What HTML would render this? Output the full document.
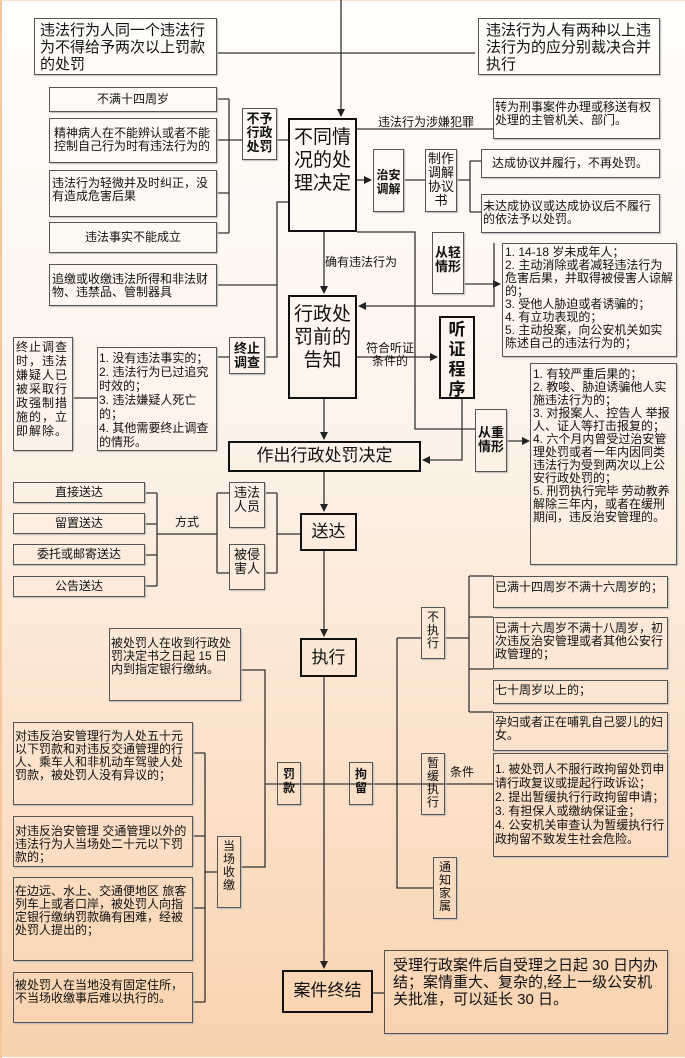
<!DOCTYPE html>
<html><head><meta charset="utf-8"><style>
*{margin:0;padding:0;box-sizing:border-box}
body{width:685px;height:1057px;position:relative;overflow:hidden;background:linear-gradient(#fffefc 0%,#fdf3ea 40%,#fbe0c8 75%,#f9d2ae 100%);font-family:"Liberation Sans","Noto Sans CJK SC",sans-serif;color:#111}
body:before{content:"";position:absolute;left:0;top:0;width:685px;height:1057px;border-left:2px solid #f6c79a;border-right:2px solid #f6c79a;border-top:1px solid #fbe3cc}
.b{position:absolute;border:1px solid #555;box-shadow:1px 1px 1px #bbb;font-size:12px;line-height:13px;padding:2px 1px;overflow:hidden}
.c{text-align:center}
.k{border:2px solid #111;font-size:19px;line-height:23px;text-align:center;padding:4px 2px;box-shadow:none}
.v{font-size:13px;line-height:14px;text-align:center;padding:3px 2px}
.bd{font-weight:bold}
svg{position:absolute;left:0;top:0}
.t{position:absolute;font-size:12px;line-height:13px}
</style></head><body>
<svg width="685" height="1057" stroke="#333" stroke-width="1.3" fill="none">
<defs><marker id="a" markerWidth="8" markerHeight="8" refX="7" refY="4" orient="auto" markerUnits="userSpaceOnUse"><path d="M0,0L8,4L0,8z" fill="#222" stroke="none"/></marker></defs>
<path d="M341,0V116" marker-end="url(#a)"/>
<path d="M217,53H475"/>
<path d="M217,99H229M217,140H229M217,193H229M217,233H229M229,99V233M229,140H242M277,140H288"/>
<path d="M217,285H277V202H288M277,285V357H265"/>
<path d="M357,129H493"/>
<path d="M357,180H371" marker-end="url(#a)"/>
<path d="M404,180H425M457,180H470M470,161V212M470,161H481M470,212H481"/>
<path d="M357,232H415V429H475"/>
<path d="M324,232V293" marker-end="url(#a)"/>
<path d="M464,284H500" marker-end="url(#a)"/>
<path d="M494,243V306H359" marker-end="url(#a)"/>
<path d="M357,357H437" marker-end="url(#a)"/>
<path d="M462,399V460H423" marker-end="url(#a)"/>
<path d="M507,441H529" marker-end="url(#a)"/>
<path d="M216,357H229M97,398H73"/>
<path d="M324,399V439" marker-end="url(#a)"/>
<path d="M324,472V511" marker-end="url(#a)"/>
<path d="M145,493H157M145,524H157M145,555H157M145,586H157M157,493V586M157,534H217M217,493V573M217,493H229M217,573H229M265,493H277M265,573H277M277,493V573M277,534H300"/>
<path d="M324,551V636" marker-end="url(#a)"/>
<path d="M324,677V968" marker-end="url(#a)"/>
<path d="M241,670H265V867H241M265,784H493"/>
<path d="M193,753H205M193,836H205M193,908H205M193,1002H205M205,753V1002M205,872H217"/>
<path d="M397,638V888H433M397,638H421M445,638H469M469,576V712M469,576H493M469,617H493M469,669H493M469,712H493"/>
<path d="M373,993H384"/>
</svg>
<div class="b" style="left:34px;top:18px;width:183px;height:57px;font-size:15px;line-height:17px;padding:3px 5px">违法行为人同一个违法行为不得给予两次以上罚款的处罚</div>
<div class="b" style="left:478px;top:18px;width:182px;height:57px;font-size:15px;line-height:17px;padding:3px 7px">违法行为人有两种以上违法行为的应分别裁决合并执行</div>
<div class="b c" style="left:49px;top:87px;width:168px;height:25px;padding-top:5px">不满十四周岁</div>
<div class="b" style="left:49px;top:118px;width:168px;height:45px;padding:8px 4px">精神病人在不能辨认或者不能控制自己行为时有违法行为的</div>
<div class="b" style="left:49px;top:170px;width:168px;height:47px;padding:6px 2px">违法行为轻微并及时纠正，没有造成危害后果</div>
<div class="b c" style="left:49px;top:222px;width:168px;height:31px;padding-top:8px">违法事实不能成立</div>
<div class="b" style="left:49px;top:264px;width:168px;height:42px;padding:8px 2px">追缴或收缴违法所得和非法财物、违禁品、管制器具</div>
<div class="b v bd" style="left:242px;top:108px;width:35px;height:52px">不予行政处罚</div>
<div class="b k" style="left:288px;top:118px;width:69px;height:114px;padding-top:6px">不同情况的处理决定</div>
<div class="t" style="left:378px;top:116px">违法行为涉嫌犯罪</div>
<div class="b" style="left:493px;top:98px;width:167px;height:41px;padding:2px 1px">转为刑事案件办理或移送有权处理的主管机关、部门。</div>
<div class="b v bd" style="left:373px;top:149px;width:31px;height:63px;padding:18px 0 0 0;font-size:12px;line-height:14px">治安<br>调解</div>
<div class="b v" style="left:425px;top:149px;width:32px;height:63px;padding-top:2px">制作调解协议书</div>
<div class="b" style="left:481px;top:149px;width:179px;height:29px;padding:7px 10px">达成协议并履行，不再处罚。</div>
<div class="b" style="left:481px;top:194px;width:179px;height:39px;padding:5px 1px">未达成协议或达成协议后不履行的依法予以处罚。</div>
<div class="b v bd" style="left:432px;top:232px;width:32px;height:62px;padding-top:13px">从轻情形</div>
<div class="t" style="left:325px;top:256px">确有违法行为</div>
<div class="b" style="left:502px;top:243px;width:175px;height:114px;padding:2px 2px">1. 14-18 岁未成年人；<br>2. 主动消除或者减轻违法行为危害后果，并取得被侵害人谅解的；<br>3. 受他人胁迫或者诱骗的；<br>4. 有立功表现的；<br>5. 主动投案，向公安机关如实陈述自己的违法行为的；</div>
<div class="b k" style="left:288px;top:295px;width:69px;height:104px;padding-top:6px">行政处罚前的告知</div>
<div class="t" style="left:365px;top:342px;text-align:center;width:50px">符合听证条件的</div>
<div class="b k bd" style="left:439px;top:316px;width:36px;height:83px;font-size:17px;line-height:20px;padding:2px 0">听证程序</div>
<div class="b v bd" style="left:229px;top:337px;width:36px;height:37px;padding-top:4px">终止调查</div>
<div class="b" style="left:13px;top:337px;width:60px;height:114px;font-size:12px;line-height:14px;padding:2px 2px;letter-spacing:1px">终止调查时，违法嫌疑人已被采取行政强制措施的，立即解除。</div>
<div class="b" style="left:97px;top:347px;width:120px;height:104px;padding:3px 1px;line-height:14px">1. 没有违法事实的；<br>2. 违法行为已过追究时效的；<br>3. 违法嫌疑人死亡的；<br>4. 其他需要终止调查的情形。</div>
<div class="b" style="left:530px;top:363px;width:147px;height:202px;padding:4px 2px">1. 有较严重后果的；<br>2. 教唆、胁迫诱骗他人实施违法行为的；<br>3. 对报案人、控告人 举报人、证人等打击报复的；<br>4. 六个月内曾受过治安管理处罚或者一年内因同类违法行为受到两次以上公安行政处罚的；<br>5. 刑罚执行完毕 劳动教养解除三年内，或者在缓刑期间，违反治安管理的。</div>
<div class="b v bd" style="left:475px;top:409px;width:32px;height:63px;padding-top:16px">从重情形</div>
<div class="b k" style="left:228px;top:441px;width:193px;height:31px;font-size:17px;line-height:20px;padding-top:3px">作出行政处罚决定</div>
<div class="b c" style="left:13px;top:482px;width:132px;height:21px;padding-top:3px">直接送达</div>
<div class="b c" style="left:13px;top:513px;width:132px;height:21px;padding-top:3px">留置送达</div>
<div class="b c" style="left:13px;top:544px;width:132px;height:21px;padding-top:3px">委托或邮寄送达</div>
<div class="b c" style="left:13px;top:576px;width:132px;height:21px;padding-top:3px">公告送达</div>
<div class="t" style="left:175px;top:516px">方式</div>
<div class="b v" style="left:229px;top:482px;width:36px;height:46px">违法人员</div>
<div class="b v" style="left:229px;top:544px;width:36px;height:46px">被侵害人</div>
<div class="b k" style="left:300px;top:513px;width:57px;height:38px;font-size:17px;padding-top:5px">送达</div>
<div class="b k" style="left:300px;top:638px;width:57px;height:39px;font-size:17px;padding-top:6px">执行</div>
<div class="b" style="left:109px;top:628px;width:132px;height:73px;padding:8px 1px">被处罚人在收到行政处罚决定书之日起 15 日内到指定银行缴纳。</div>
<div class="b" style="left:493px;top:576px;width:175px;height:32px;padding:4px 1px">已满十四周岁不满十六周岁的；</div>
<div class="b" style="left:493px;top:617px;width:175px;height:52px;padding:4px 1px">已满十六周岁不满十八周岁，初次违反治安管理或者其他公安行政管理的；</div>
<div class="b" style="left:493px;top:680px;width:175px;height:24px;padding:3px 1px">七十周岁以上的；</div>
<div class="b" style="left:493px;top:712px;width:175px;height:39px;padding:3px 1px">孕妇或者正在哺乳自己婴儿的妇女。</div>
<div class="b v" style="left:421px;top:607px;width:24px;height:52px;font-size:12px;line-height:13px">不执行</div>
<div class="b" style="left:13px;top:722px;width:180px;height:83px;padding:7px 1px">对违反治安管理行为人处五十元以下罚款和对违反交通管理的行人、乘车人和非机动车驾驶人处罚款，被处罚人没有异议的；</div>
<div class="b v bd" style="left:277px;top:762px;width:24px;height:43px;font-size:12px;padding-top:4px">罚款</div>
<div class="b v bd" style="left:349px;top:762px;width:24px;height:43px;font-size:12px;padding-top:4px">拘留</div>
<div class="b v" style="left:421px;top:753px;width:24px;height:62px;font-size:12px;line-height:13px">暂缓执行</div>
<div class="t" style="left:450px;top:766px">条件</div>
<div class="b" style="left:493px;top:753px;width:175px;height:104px;padding:8px 1px;line-height:14px">1. 被处罚人不服行政拘留处罚申请行政复议或提起行政诉讼；<br>2. 提出暂缓执行行政拘留申请；<br>3. 有担保人或缴纳保证金；<br>4. 公安机关审查认为暂缓执行行政拘留不致发生社会危险。</div>
<div class="b" style="left:13px;top:816px;width:180px;height:51px;padding:8px 1px">对违反治安管理 交通管理以外的违法行为人当场处二十元以下罚款的；</div>
<div class="b v" style="left:217px;top:836px;width:24px;height:72px;font-size:12px;line-height:13px">当场收缴</div>
<div class="b v" style="left:433px;top:857px;width:24px;height:62px;font-size:12px;line-height:13px">通知家属</div>
<div class="b" style="left:13px;top:877px;width:180px;height:84px;padding:7px 1px">在边远、水上、交通便地区 旅客列车上或者口岸，被处罚人向指定银行缴纳罚款确有困难，经被处罚人提出的；</div>
<div class="b" style="left:13px;top:972px;width:180px;height:51px;padding:6px 1px">被处罚人在当地没有固定住所，不当场收缴事后难以执行的。</div>
<div class="b k" style="left:282px;top:970px;width:91px;height:43px;font-size:17px;padding-top:7px">案件终结</div>
<div class="b" style="left:384px;top:950px;width:284px;height:84px;font-size:15px;line-height:17px;padding:6px 8px">受理行政案件后自受理之日起 30 日内办结；案情重大、复杂的,经上一级公安机关批准，可以延长 30 日。</div>
</body></html>
